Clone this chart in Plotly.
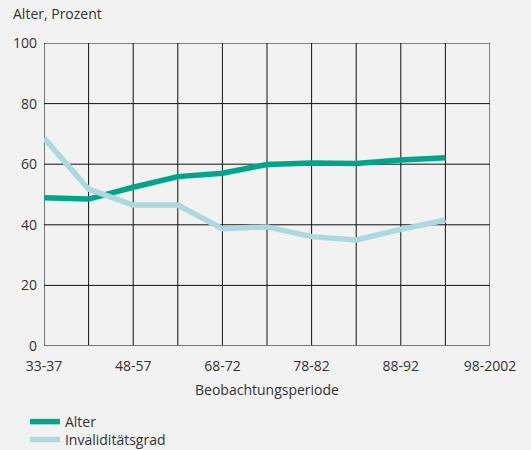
import plotly.graph_objects as go

periods = ["33-37", "38-47", "48-57", "58-67", "68-72", "73-77",
           "78-82", "83-87", "88-92", "93-97", "98-2002"]
alter = [48.9, 48.5, 52.4, 55.9, 57.0, 59.9, 60.4, 60.2, 61.4, 62.1]
invaliditaet = [68.6, 51.8, 46.5, 46.5, 38.7, 39.3, 36.1, 35.0, 38.5, 41.6]
y_ticks = [0, 20, 40, 60, 80, 100]

x_idx = list(range(len(periods)))
tick_vals = x_idx[::2]
tick_text = periods[::2]

font_family = "Open Sans, Liberation Sans, Arial, sans-serif"
fs = 14
tc = "#333333"

fig = go.Figure()
fig.add_trace(go.Scatter(x=x_idx[:len(alter)], y=alter, mode="lines", name="Alter",
                         line=dict(color="#00a58a", width=5.5), legend="legend"))
fig.add_trace(go.Scatter(x=x_idx[:len(invaliditaet)], y=invaliditaet, mode="lines",
                         name="Invaliditätsgrad",
                         line=dict(color="#acd9dd", width=5.5), legend="legend2"))

leg_common = dict(xref="container", yref="container", x=0.047,
                  xanchor="left", yanchor="top",
                  bgcolor="rgba(0,0,0,0)", font=dict(size=fs, color=tc),
                  itemwidth=30)

fig.update_layout(
    width=531, height=450,
    margin=dict(l=44, r=41, t=43, b=104, autoexpand=False),
    paper_bgcolor="#f2f2f2", plot_bgcolor="#f2f2f2",
    font=dict(family=font_family, size=fs, color=tc),
    showlegend=True,
    legend=dict(y=0.0978, **leg_common),
    legend2=dict(y=0.0578, **leg_common),
    xaxis=dict(range=[0, 10], tickmode="array", tickvals=tick_vals, ticktext=tick_text,
               showgrid=False, zeroline=False, showline=False, ticks="",
               automargin=False, ticklabelstandoff=10,
               title=dict(text="Beobachtungsperiode", standoff=11,
                          font=dict(size=fs, color=tc)),
               tickfont=dict(size=fs, color=tc)),
    yaxis=dict(range=[0, 100], tickmode="array", tickvals=y_ticks,
               showgrid=False, zeroline=False, showline=False, ticks="",
               automargin=False, ticklabelstandoff=6,
               tickfont=dict(size=fs, color=tc)),
    annotations=[dict(text="Alter, Prozent", xref="paper", yref="paper",
                      x=-0.075, y=1.058, xanchor="left", yanchor="bottom",
                      showarrow=False, font=dict(size=fs, color=tc))],
)

shapes = []
for i in x_idx:
    shapes.append(dict(type="line", xref="x", yref="y", x0=i, x1=i, y0=0, y1=100,
                       line=dict(color="#777777" if i == 0 else "#111111",
                                 width=2 if i == 0 else 1), layer="below"))
for v in y_ticks:
    shapes.append(dict(type="line", xref="x", yref="y", x0=0, x1=10, y0=v, y1=v,
                       line=dict(color="#777777" if v == 0 else "#111111",
                                 width=2 if v == 0 else 1), layer="below"))
fig.update_layout(shapes=shapes)

fig.write_html("out.html", config={"displayModeBar": False},
               post_script="document.body.style.margin='0';document.body.style.background='#f2f2f2';")
